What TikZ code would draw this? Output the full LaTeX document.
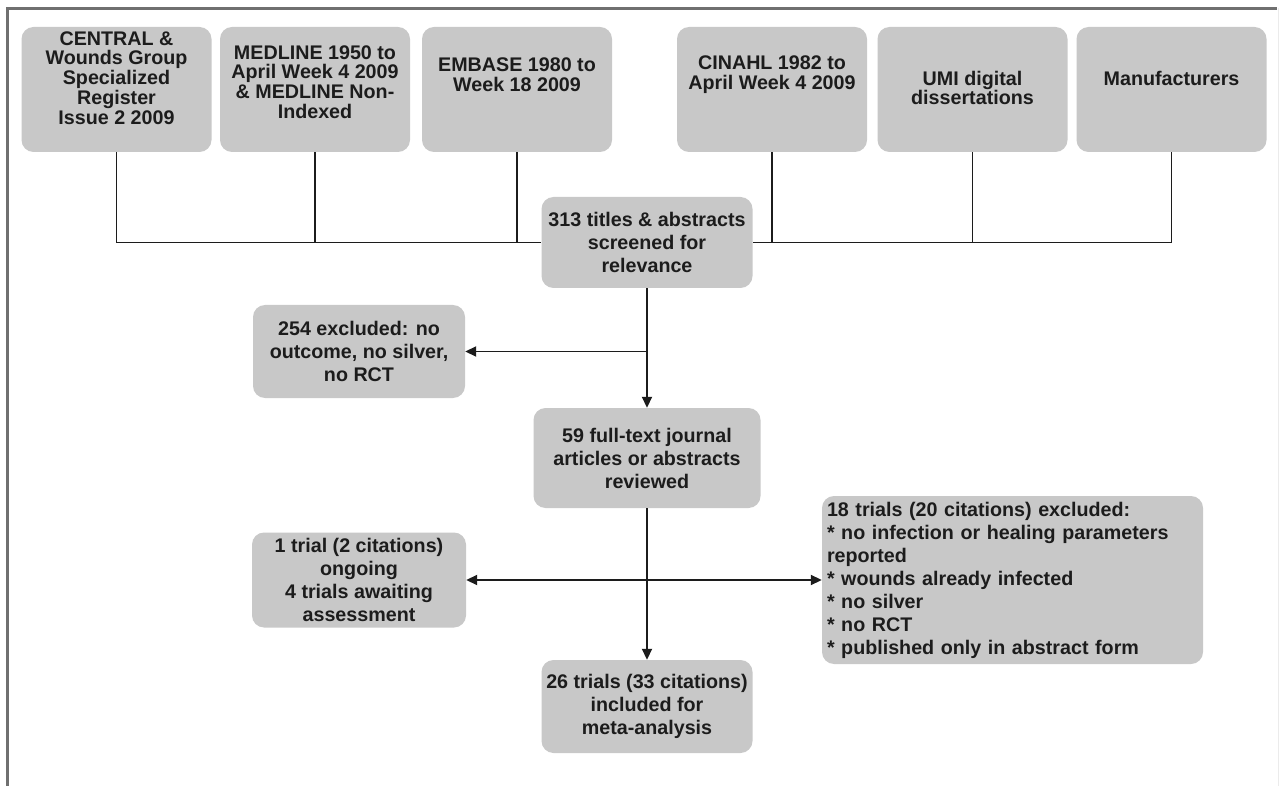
\documentclass[tikz,border=0pt]{standalone}
\usepackage{fontspec}
\setmainfont{Liberation Sans}
\usetikzlibrary{arrows.meta}
\definecolor{boxgray}{HTML}{C8C8C8}
\definecolor{framegray}{HTML}{707070}
\definecolor{inkgray}{HTML}{1C1C1C}
\begin{document}
\begin{tikzpicture}[x=1pt, y=-1pt,
        srcbox/.style={fill=boxgray, rounded corners=12pt, minimum width=190pt, minimum height=125pt, inner sep=0pt},
        srctext/.style={text=inkgray, font=\bfseries\fontsize{19.7}{19.8}\selectfont, align=center, inner sep=0pt},
        stagebox/.style={fill=boxgray, rounded corners=12pt, text=inkgray, font=\bfseries\fontsize{19.7}{23}\selectfont, align=center, inner sep=4pt},
        line/.style={inkgray, line width=1.8pt},
        arr/.style={line, -{Triangle[length=11pt, width=10pt]}}]
    \useasboundingbox (0,0) rectangle (1283,786);
    \fill[white] (0,0) rectangle (1283,786);
    % frame
    \draw[framegray, line width=3pt] (6,8.5) -- (1277,8.5);
    \draw[framegray, line width=2.5pt] (7.5,8) -- (7.5,786);
    \draw[black!8, line width=1pt] (1278,8) -- (1278,786);
    % sources
    \foreach \name/\x/\ty/\txt in {
            central/116.5/78/{CENTRAL \&\\Wounds Group\\Specialized\\Register\\Issue 2 2009},
            medline/315/82/{MEDLINE 1950 to\\April Week 4 2009\\\& MEDLINE Non-\\Indexed},
            embase/517/75/{EMBASE 1980 to\\Week 18 2009},
            cinahl/772/75/{CINAHL 1982 to\\April Week 4 2009},
            umi/972.5/88/{UMI digital\\dissertations},
            manuf/1171.5/78/{Manufacturers}} {
        \node[srcbox] (\name) at (\x,89.5) {};
        \node[srctext] (\name txt) at (\x,\ty) {\txt};
    }
    % stages
    \node[stagebox, minimum width=211pt, minimum height=91pt] (screen) at (647,242.5)
        {313 titles \& abstracts\\screened for\\relevance};
    \node[stagebox, minimum width=212pt, minimum height=93pt] (excla) at (359,351.5)
        {254 excluded: no\\outcome, no silver,\\no RCT};
    \node[stagebox, minimum width=227pt, minimum height=100pt] (reviewed) at (647,458)
        {59 full-text journal\\articles or abstracts\\reviewed};
    \node[stagebox, minimum width=214pt, minimum height=95pt] (ongoing) at (359,580)
        {1 trial (2 citations)\\ongoing\\4 trials awaiting\\assessment};
    \node[stagebox, align=left, text width=371pt, inner sep=5pt, minimum height=168pt] (exclb) at (1012.5,580)
        {18 trials (20 citations) excluded:\\{}* no infection or healing parameters\\reported\\{}* wounds already infected\\{}* no silver\\{}* no RCT\\{}* published only in abstract form};
    \node[stagebox, minimum width=211pt, minimum height=93pt] (included) at (647,706.5)
        {26 trials (33 citations)\\included for\\meta-analysis};
    % connectors
    \draw[line] (central.south) |- (screen.west);
    \draw[line] (manuf.south) |- (screen.east);
    \foreach \name in {medline,embase,cinahl,umi}
        \draw[line] (\name.south) -- (\name.south |- screen.west);
    \draw[arr] (screen.south) -- (reviewed.north);
    \draw[arr] (screen.south |- excla.east) -- (excla.east);
    \draw[arr] (reviewed.south) -- (included.north);
    \draw[arr] (reviewed.south |- ongoing.east) -- (ongoing.east);
    \draw[arr] (reviewed.south |- exclb.west) -- (exclb.west);
\end{tikzpicture}
\end{document}
